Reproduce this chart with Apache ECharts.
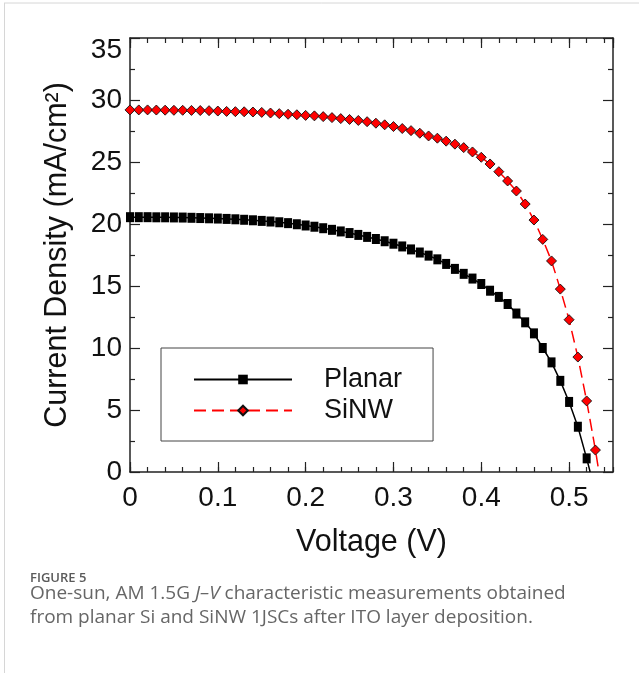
<!DOCTYPE html>
<html>
<head>
<meta charset="utf-8">
<script src="https://cdn.jsdelivr.net/npm/echarts@6/dist/echarts.min.js"></script>
<style>
  html, body { margin: 0; padding: 0; background: #fff; }
  #chart { width: 639px; height: 673px; }
</style>
</head>
<body>
<div id="chart"></div>
<script>
// ---- Data ----
const voltage = [0.00, 0.01, 0.02, 0.03, 0.04, 0.05, 0.06, 0.07, 0.08, 0.09,
                 0.10, 0.11, 0.12, 0.13, 0.14, 0.15, 0.16, 0.17, 0.18, 0.19,
                 0.20, 0.21, 0.22, 0.23, 0.24, 0.25, 0.26, 0.27, 0.28, 0.29,
                 0.30, 0.31, 0.32, 0.33, 0.34, 0.35, 0.36, 0.37, 0.38, 0.39,
                 0.40, 0.41, 0.42, 0.43, 0.44, 0.45, 0.46, 0.47, 0.48, 0.49,
                 0.50, 0.51, 0.52, 0.53];
const planarJ = [20.55, 20.55, 20.55, 20.54, 20.54, 20.53, 20.52, 20.50, 20.48, 20.46,
                 20.44, 20.41, 20.38, 20.34, 20.30, 20.25, 20.20, 20.14, 20.07, 19.98,
                 19.88, 19.78, 19.66, 19.53, 19.40, 19.27, 19.12, 18.96, 18.79, 18.61,
                 18.41, 18.19, 17.95, 17.70, 17.45, 17.15, 16.78, 16.38, 15.98, 15.60,
                 15.16, 14.62, 14.12, 13.55, 12.78, 12.07, 11.18, 10.00, 8.84, 7.35,
                 5.65, 3.65, 1.10];
const sinwJ = [29.20, 29.20, 29.20, 29.19, 29.18, 29.17, 29.17, 29.16, 29.15, 29.14,
               29.11, 29.08, 29.06, 29.05, 29.03, 29.00, 28.95, 28.90, 28.85, 28.81,
               28.76, 28.72, 28.66, 28.58, 28.50, 28.43, 28.35, 28.25, 28.13, 28.00,
               27.86, 27.70, 27.53, 27.32, 27.10, 26.92, 26.68, 26.44, 26.16, 25.81,
               25.38, 24.84, 24.22, 23.47, 22.66, 21.61, 20.32, 18.76, 17.02, 14.75,
               12.28, 9.27, 5.73, 1.77];
// open-circuit voltage where each curve meets J = 0
const planarVoc = 0.524;
const sinwVoc = 0.534;
const seriesNames = ['Planar', 'SiNW'];
const xTicks = [0, 0.1, 0.2, 0.3, 0.4, 0.5];
const yTicks = [0, 5, 10, 15, 20, 25, 30, 35];
const xMax = 0.55;
const xMinorStep = 0.02;
const yMinorSplit = 2;
const xName = 'Voltage (V)';
const yName = 'Current Density (mA/cm²)';
const captionHead = 'FIGURE 5';
const captionLine1 = ['One-sun, AM 1.5G ', 'J–V', ' characteristic measurements obtained'];
const captionLine2 = 'from planar Si and SiNW 1JSCs after ITO layer deposition.';

// ---- Build ----
function buildSeriesData(ys, voc) {
  const pts = ys.map((y, i) => [voltage[i], y]);
  pts.push({ value: [voc, 0], symbol: 'none' });
  return pts;
}

const FONT = '"Liberation Sans", Arial, Helvetica, sans-serif';
const AX = '#222';
const axisLineStyle = { color: AX, width: 1.5 };
const xStep = xTicks[1] - xTicks[0];
const yStep = yTicks[1] - yTicks[0];

function xAxisMajor(pos, showLabel) {
  return {
    type: 'value', position: pos, min: xTicks[0], max: xMax, interval: xStep,
    axisLine: { show: true, onZero: false, lineStyle: axisLineStyle },
    axisTick: { show: true, inside: true, length: 10, lineStyle: { color: AX, width: 1.2 } },
    axisLabel: showLabel ? { show: true, fontSize: 28, fontFamily: FONT, color: '#111', margin: 12, showMaxLabel: false } : { show: false },
    splitLine: { show: false },
    name: showLabel ? xName : '',
    nameLocation: 'middle', nameGap: 55,
    nameTextStyle: { fontSize: 30.5, fontFamily: FONT, color: '#111' }
  };
}
function xAxisMinor(pos) {
  return {
    type: 'value', position: pos, min: xTicks[0], max: xMax, interval: xMinorStep,
    axisLine: { show: false, onZero: false },
    axisTick: { show: true, inside: true, length: 5, lineStyle: { color: AX, width: 1.2 } },
    axisLabel: { show: false }, splitLine: { show: false }
  };
}
function yAxisDef(pos, showLabel) {
  return {
    type: 'value', position: pos, min: yTicks[0], max: yTicks[yTicks.length - 1], interval: yStep,
    axisLine: { show: true, onZero: false, lineStyle: axisLineStyle },
    axisTick: { show: true, inside: true, length: 10, lineStyle: { color: AX, width: 1.2 } },
    minorTick: { show: true, splitNumber: yMinorSplit, length: 5, lineStyle: { color: AX, width: 1.2 } },
    axisLabel: showLabel ? {
      show: true, fontSize: 28, fontFamily: FONT, color: '#111', margin: 8,
      formatter: v => v === yTicks[yTicks.length - 1] ? '{t|' + v + '}' : String(v),
      rich: { t: { fontSize: 28, fontFamily: FONT, color: '#111', padding: [24, 0, 0, 0] } }
    } : { show: false },
    splitLine: { show: false },
    name: showLabel ? yName : '',
    nameLocation: 'middle', nameGap: 57,
    nameTextStyle: { fontSize: 30.5, fontFamily: FONT, color: '#111' }
  };
}

const chart = echarts.init(document.getElementById('chart'), null, { renderer: 'canvas' });
chart.setOption({
  animation: false,
  backgroundColor: '#fff',
  grid: { left: 130, top: 38, right: 26, bottom: 201, containLabel: false },
  xAxis: [xAxisMajor('bottom', true), xAxisMinor('bottom'), xAxisMajor('top', false), xAxisMinor('top')],
  yAxis: [yAxisDef('left', true), yAxisDef('right', false)],
  legend: {
    orient: 'vertical', left: 161, top: 348,
    padding: [18, 31, 17, 32],
    borderColor: '#444', borderWidth: 1,
    itemWidth: 98, itemHeight: 12, itemGap: 4,
    data: seriesNames,
    textStyle: { fontSize: 27, fontFamily: FONT, color: '#111', lineHeight: 27, padding: [0, 0, 0, 27] }
  },
  series: [
    {
      name: seriesNames[0], type: 'line', xAxisIndex: 0, yAxisIndex: 0,
      data: buildSeriesData(planarJ, planarVoc),
      symbol: 'rect', symbolSize: [8, 10],
      itemStyle: { color: '#000' },
      lineStyle: { color: '#000', width: 1.5 },
      z: 3
    },
    {
      name: seriesNames[1], type: 'line', xAxisIndex: 0, yAxisIndex: 0,
      data: buildSeriesData(sinwJ, sinwVoc),
      symbol: 'diamond', symbolSize: 10,
      itemStyle: { color: '#ff0000', borderColor: '#111', borderWidth: 0.9 },
      lineStyle: { color: '#ff0000', width: 1.5, type: [12, 6] },
      z: 4
    }
  ],
  graphic: [
    { type: 'line', shape: { x1: 4, y1: 3, x2: 639, y2: 3 }, style: { stroke: '#d6d6d6', lineWidth: 1 } },
    { type: 'line', shape: { x1: 4.5, y1: 3, x2: 4.5, y2: 673 }, style: { stroke: '#d6d6d6', lineWidth: 1 } },
    { type: 'text', x: 30, y: 578, style: { text: captionHead, font: '600 13px "Open Sans", sans-serif', fill: '#5a5a5a', verticalAlign: 'middle' } },
    { type: 'text', x: 30, y: 594, style: {
        text: '{n|' + captionLine1[0] + '}{i|' + captionLine1[1] + '}{n|' + captionLine1[2] + '}',
        verticalAlign: 'middle',
        rich: {
          n: { fontFamily: '"Open Sans", sans-serif', fontSize: 19, fill: '#666' },
          i: { fontFamily: '"Open Sans", sans-serif', fontSize: 19, fontStyle: 'italic', fill: '#666' }
        }
    } },
    { type: 'text', x: 30, y: 618, style: { text: captionLine2, font: '19px "Open Sans", sans-serif', fill: '#666', verticalAlign: 'middle' } }
  ]
});
</script>
</body>
</html>
